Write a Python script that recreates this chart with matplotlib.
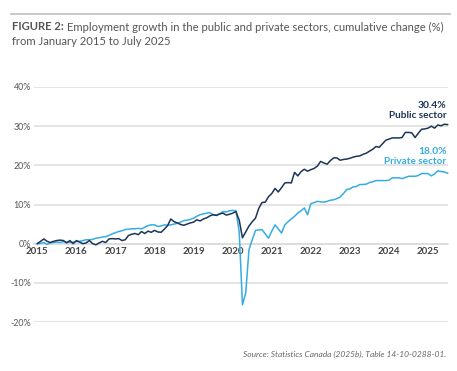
import numpy as np
import matplotlib
matplotlib.use("Agg")
import matplotlib.pyplot as plt

plt.rcParams['font.family'] = ['Lato', 'DejaVu Sans']

# cumulative change (%) since January 2015, monthly Jan 2015 - Jul 2025
public = [
    0.0, 0.6, 1.2, 0.6, 0.3, 0.6, 0.8, 0.9, 0.8, 0.2, 0.8, 0.0,        # 2015
    0.8, 0.4, 0.0, 0.2, 0.8, 0.0, -0.3, 0.2, 0.6, 0.3, 1.2, 1.3,       # 2016
    1.2, 1.3, 0.8, 1.0, 2.1, 2.4, 2.6, 2.3, 3.1, 2.6, 3.2, 2.9,        # 2017
    3.4, 3.0, 2.9, 3.7, 4.6, 6.3, 5.6, 5.3, 4.9, 4.7, 5.0, 5.3,        # 2018
    5.5, 6.1, 5.8, 6.3, 6.6, 7.1, 7.4, 7.2, 7.6, 7.8, 7.3, 7.5,        # 2019
    7.8, 8.2, 6.0, 1.5, 3.0, 4.5, 5.6, 6.5, 9.0, 10.5, 10.6, 12.0,     # 2020
    12.8, 14.1, 13.2, 14.3, 15.5, 15.6, 15.5, 18.2, 17.3, 18.4, 19.0, 18.5,  # 2021
    18.9, 19.2, 19.8, 21.0, 20.6, 20.3, 21.2, 21.9, 21.9, 21.3, 21.5, 21.6,  # 2022
    21.8, 22.1, 22.3, 22.4, 22.8, 23.1, 23.6, 24.1, 24.8, 24.6, 25.5, 26.4,  # 2023
    26.7, 27.0, 27.0, 27.0, 27.1, 28.4, 28.4, 28.3, 27.1, 28.2, 29.2, 29.3,  # 2024
    29.5, 30.0, 29.5, 30.3, 30.1, 30.5, 30.4,                          # 2025
]
private = [
    0.0, 0.1, 0.3, -0.2, 0.2, 0.3, 0.4, 0.3, 0.5, 0.4, 0.3, 0.4,       # 2015
    0.5, 0.6, 0.8, 1.0, 1.0, 1.1, 1.4, 1.5, 1.7, 1.8, 2.1, 2.5,        # 2016
    2.8, 3.1, 3.3, 3.6, 3.7, 3.8, 3.8, 3.9, 3.8, 4.2, 4.6, 4.8,        # 2017
    4.8, 4.4, 4.5, 4.8, 4.7, 4.8, 5.0, 5.2, 5.5, 5.9, 6.0, 6.2,        # 2018
    6.5, 7.0, 7.4, 7.6, 7.8, 7.9, 7.4, 7.3, 7.6, 8.2, 8.1, 8.4,        # 2019
    8.5, 8.4, 3.0, -15.6, -12.6, -1.5, 1.0, 3.4, 3.5, 3.6, 2.5, 1.4,   # 2020
    3.2, 4.8, 3.8, 2.7, 4.8, 5.6, 6.3, 7.0, 7.8, 8.4, 9.1, 7.4,        # 2021
    10.2, 10.5, 10.8, 10.7, 10.6, 10.8, 11.1, 11.2, 11.5, 11.9, 12.8, 13.8,  # 2022
    14.0, 14.5, 14.6, 15.1, 15.1, 15.2, 15.6, 15.8, 16.1, 16.1, 16.1, 16.1,  # 2023
    16.2, 16.8, 16.8, 16.8, 16.6, 16.9, 17.2, 17.2, 17.2, 17.4, 17.9, 17.9,  # 2024
    17.9, 17.3, 17.8, 18.6, 18.4, 18.3, 18.0,                          # 2025
]
years = list(range(2015, 2026))
yticks = [-20, -10, 0, 10, 20, 30, 40]

navy = '#1d3557'
blue = '#35ade3'
grey_txt = '#555555'

t = 2015 + np.arange(len(public)) / 12.0

fig = plt.figure(figsize=(4.57, 3.71), dpi=100)
ax = fig.add_axes([34/457, 49/371, 414/457, 235/371])

ax.plot(t, private, color=blue, lw=1.1, clip_on=False, zorder=3)
ax.plot(t, public, color=navy, lw=1.1, clip_on=False, zorder=4)

ax.set_xlim(2014.915, 2025.51)
ax.set_ylim(-20, 40)
ax.set_yticks(yticks)
ax.set_yticklabels([f'{v}%' for v in yticks])
ax.set_xticks(years)
ax.set_xticklabels([str(y) for y in years])
ax.grid(axis='y', color='#dcdcdc', lw=1.1)
ax.set_axisbelow(True)
for s in ['top', 'right', 'left']:
    ax.spines[s].set_visible(False)
ax.spines['bottom'].set_position(('data', 0))
ax.spines['bottom'].set_color('#dcdcdc')
ax.spines['bottom'].set_linewidth(1.1)
ax.tick_params(axis='x', length=0, pad=2.5, labelsize=7, labelcolor='#444444')
ax.tick_params(axis='y', length=0, pad=2, labelsize=6.4, labelcolor=grey_txt)
for lb in ax.get_xticklabels():
    lb.set_fontweight('bold')

# end labels
ax.text(2025.47, 35.4, '30.4%', color=navy, fontsize=7.4, fontweight='bold', ha='right', va='center')
ax.text(2025.47, 32.7, 'Public sector', color=navy, fontsize=7.2, fontweight='bold', ha='right', va='center')
ax.text(2025.47, 23.6, '18.0%', color=blue, fontsize=7.4, fontweight='bold', ha='right', va='center')
ax.text(2025.47, 21.0, 'Private sector', color=blue, fontsize=7.2, fontweight='bold', ha='right', va='center')

# top rule and title
fig.add_artist(plt.Line2D([11/457, 450/457], [1 - 14/371, 1 - 14/371], color='#c4c4c4', lw=1.3))
t1 = fig.text(12/457, 1 - 27/371, 'FIGURE 2:', fontsize=8.1, fontweight='bold', color=grey_txt, va='center')
fig.canvas.draw()
bb = t1.get_window_extent().transformed(fig.transFigure.inverted())
fig.text(bb.x1 + 3/457, 1 - 27/371, 'Employment growth in the public and private sectors, cumulative change (%)',
         fontsize=8.1, color=grey_txt, va='center')
fig.text(12/457, 1 - 41.5/371, 'from January 2015 to July 2025', fontsize=8.1, color=grey_txt, va='center')

fig.text(446/457, 1 - 354/371, 'Source: Statistics Canada (2025b), Table 14-10-0288-01.',
         fontsize=6.0, style='italic', color='#666666', ha='right', va='center')

fig.savefig('out.png', dpi=100)
